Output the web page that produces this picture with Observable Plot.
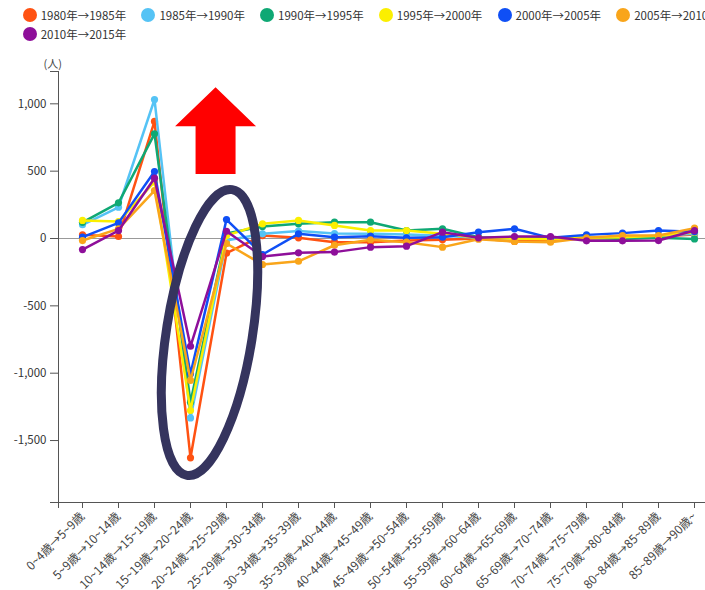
<!DOCTYPE html>
<html><head><meta charset="utf-8">
<script src="https://cdn.jsdelivr.net/npm/d3@7"></script>
<script src="https://cdn.jsdelivr.net/npm/@observablehq/plot@0.6"></script>
<style>
body{margin:0;background:#fff;font-family:"Noto Sans CJK JP","Noto Sans",sans-serif;}
#legend{position:relative;width:705px;height:48px;overflow:hidden;font-size:11.5px;color:#333;}
.item{position:absolute;display:flex;align-items:center;white-space:nowrap;height:16px;}
.sw{width:14px;height:14px;border-radius:50%;margin-right:4px;flex:none;}
</style></head><body>
<div id="legend"></div>
<div id="chart"></div>
<script>
// ---- data ----
const categories = ["0~4歳→5~9歳","5~9歳→10~14歳","10~14歳→15~19歳","15~19歳→20~24歳","20~24歳→25~29歳","25~29歳→30~34歳","30~34歳→35~39歳","35~39歳→40~44歳","40~44歳→45~49歳","45~49歳→50~54歳","50~54歳→55~59歳","55~59歳→60~64歳","60~64歳→65~69歳","65~69歳→70~74歳","70~74歳→75~79歳","75~79歳→80~84歳","80~84歳→85~89歳","85~89歳→90歳~"];
const seriesNames = ["1980年→1985年","1985年→1990年","1990年→1995年","1995年→2000年","2000年→2005年","2005年→2010年","2010年→2015年"];
const seriesColors = ["#ff5212","#55c3f5","#0fa874","#fbef00","#0f4ff5","#f9a51a","#8e0f9a"];
const v1980 = [27, 15, 869, -1628, -109, 22, 5, -27, -27, -15, -10, 0, -22, -10, 0, 5, 15, 30];
const v1985 = [102, 232, 1032, -1332, -15, 35, 55, 37, 35, 30, 20, 5, 0, 0, 5, 10, 20, 35];
const v1990 = [120, 265, 777, -1215, 37, 89, 109, 121, 121, 59, 72, 10, 5, 5, 5, -3, 5, -3];
const v1995 = [134, 126, 420, -1277, 22, 109, 134, 97, 59, 59, 35, 5, 0, -5, 5, 10, 20, 47];
const v2000 = [10, 116, 497, -1005, 141, -119, 35, 10, 17, 5, 10, 47, 72, 5, 27, 40, 59, 50];
const v2005 = [-15, 72, 356, -1054, -37, -193, -169, -50, -10, -27, -64, -5, -22, -27, 5, 22, 22, 77];
const v2010 = [-82, 59, 448, -800, 54, -134, -106, -101, -64, -57, 47, 5, 15, 15, -17, -17, -15, 59];
const seriesValues = [v1980, v1985, v1990, v1995, v2000, v2005, v2010];
const yTicks = [1000, 500, 0, -500, -1000, -1500];
const yUnit = "(人)";
// annotations (in data units: category position, value)
const arrowAnno = {x: 3.71, tip: 1120, neck: 830, base: 475};
const ellipseAnno = {top: [4.17, 359], bottom: [2.914, -1762]};

// ---- layout / style ----
const W = 705, H = 542, mL = 58, mR = 0, mT = 23, mB = 88;
const step = 36, padL = 24 / step, padR = 11 / step;
const yDomain = [-1960, 1240];
const fmt = d => d.toLocaleString("en-US");

// legend
const legend = document.getElementById("legend");
const perRow = 6, colW = 118.7, x0 = 22.7, rowY = [7, 26];
seriesNames.forEach((name, k) => {
  const it = document.createElement("div");
  it.className = "item";
  it.style.left = (x0 + (k % perRow) * colW) + "px";
  it.style.top = rowY[Math.floor(k / perRow)] + "px";
  const sw = document.createElement("span");
  sw.className = "sw"; sw.style.background = seriesColors[k];
  it.appendChild(sw);
  it.appendChild(document.createTextNode(name));
  legend.appendChild(it);
});

const seriesData = seriesValues.map((vals, s) => vals.map((v, i) => ({series: seriesNames[s], i, v})));

const annotate = (index, scales) => {
  const {x, y} = scales;
  const g = d3.create("svg:g");
  const [tx, ty] = [x(ellipseAnno.top[0]), y(ellipseAnno.top[1])];
  const [bx, by] = [x(ellipseAnno.bottom[0]), y(ellipseAnno.bottom[1])];
  const cx = (tx + bx) / 2, cy = (ty + by) / 2;
  const a = Math.hypot(tx - bx, ty - by) / 2;
  const ang = Math.atan2(tx - bx, by - ty) * 180 / Math.PI;
  g.append("ellipse").attr("cx", 0).attr("cy", 0).attr("rx", 43).attr("ry", a)
    .attr("transform", `translate(${cx},${cy}) rotate(${ang})`)
    .attr("fill", "none").attr("stroke", "#35345e").attr("stroke-width", 9);
  const ax = x(arrowAnno.x), hw = 40.5, sw = 20;
  const yt = y(arrowAnno.tip), yn = y(arrowAnno.neck), yb = y(arrowAnno.base);
  const pts = [[ax, yt], [ax + hw, yn], [ax + sw, yn], [ax + sw, yb], [ax - sw, yb], [ax - sw, yn], [ax - hw, yn]];
  g.append("polygon").attr("points", pts.map(p => p.join(",")).join(" ")).attr("fill", "#ff0000");
  return g.node();
};

const seriesMarks = seriesData.flatMap((d, s) => [
  Plot.line(d, {x: "i", y: "v", stroke: seriesColors[s], strokeWidth: 2.5}),
  Plot.dot(d, {x: "i", y: "v", fill: seriesColors[s], r: 3.6})
]);

const chart = Plot.plot({
  width: W, height: H, marginLeft: mL, marginRight: mR, marginTop: mT, marginBottom: mB,
  style: {fontFamily: '"Noto Sans CJK JP","Noto Sans",sans-serif', fontSize: "11px", color: "#333", background: "#fff", overflow: "visible"},
  x: {domain: [-padL, categories.length - 1 + padR], axis: null},
  y: {domain: yDomain, axis: null},
  marks: [
    Plot.ruleY([0], {stroke: "#999", strokeWidth: 1}),
    Plot.axisY({ticks: [yDomain[1], ...yTicks, yDomain[0]], tickFormat: d => yTicks.includes(d) ? fmt(d) : "", tickSize: 8, tickPadding: 4, fontSize: 11.5, stroke: "#555", label: null}),
    Plot.axisX({ticks: [-padL, ...d3.range(categories.length)], tickFormat: i => categories[i] ?? "", tickRotate: -45, tickSize: 6, tickPadding: 6, fontSize: 12, stroke: "#555", fill: "#444", label: null}),
    Plot.ruleX([-padL], {stroke: "#555"}),
    Plot.ruleY([yDomain[0]], {stroke: "#555"}),
    ...seriesMarks,
    annotate,
    Plot.text([yUnit], {frameAnchor: "top-left", dx: -15, dy: -11, fontSize: 11, fill: "#444"})
  ]
});
document.getElementById("chart").appendChild(chart);
</script>
</body></html>
